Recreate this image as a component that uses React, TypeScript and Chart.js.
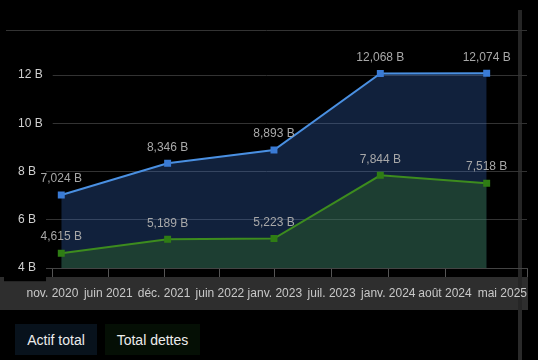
import React, { useEffect, useRef } from "react";
import { Chart, registerables } from "chart.js";

Chart.register(...registerables);

// Months since Nov 2020 for each reported period
const periodMonths = [1, 13, 25, 37, 49];
const actifTotal = [7.024, 8.346, 8.893, 12.068, 12.074];
const totalDettes = [4.615, 5.189, 5.223, 7.844, 7.518];
// x-axis tick labels and their positions (months since Nov 2020)
const xTickLabels = ["nov. 2020", "juin 2021", "déc. 2021", "juin 2022", "janv. 2023", "juil. 2023", "janv. 2024", "août 2024", "mai 2025"];
const xTickMonths = [0, 6.3, 12.6, 18.9, 25.1, 31.5, 37.9, 44.3];
const xMin = -5.237;
const xMax = 53.55;
const yMin = 4;
const yMax = 13.87;
const yStep = 2;
const seriesNames = ["Actif total", "Total dettes"];

const FONT = "'Liberation Sans', Arial, sans-serif";

const fmt = (v: number) => v.toFixed(3).replace(".", ",") + " B";
const isTop = (v: number) => Math.abs(v - yMax) < 1e-6;

const bgPlugin = {
  id: "bgPlugin",
  beforeDraw(chart: any) {
    const { ctx, width, height } = chart;
    ctx.save();
    ctx.fillStyle = "#000";
    ctx.fillRect(0, 0, width, height);
    const xs = chart.scales.x;
    ctx.fillStyle = "#2e2e2e";
    ctx.fillRect(0, xs.top + 9, chart.chartArea.right + 1, 33);
    ctx.fillStyle = "#262626";
    ctx.fillRect(518, 10, 4, height - 10);
    ctx.restore();
  },
};

const labelPlugin = {
  id: "labelPlugin",
  afterDatasetsDraw(chart: any) {
    const { ctx } = chart;
    ctx.save();
    ctx.font = `12px ${FONT}`;
    ctx.fillStyle = "#a8a8a8";
    ctx.textAlign = "center";
    ctx.textBaseline = "middle";
    chart.data.datasets.forEach((ds: any, i: number) => {
      const meta = chart.getDatasetMeta(i);
      meta.data.forEach((pt: any, j: number) => {
        const v = ds.data[j].y;
        ctx.fillText(fmt(v), pt.x, pt.y - 16);
      });
    });
    ctx.restore();
  },
};

export default function App() {
  const ref = useRef<HTMLCanvasElement>(null);
  useEffect(() => {
    document.body.style.margin = "0";
    document.body.style.background = "#000";
    const chart = new Chart(ref.current!, {
      type: "line",
      data: {
        datasets: [
          {
            label: seriesNames[0],
            data: periodMonths.map((m, i) => ({ x: m, y: actifTotal[i] })),
            borderColor: "#4a90e2",
            backgroundColor: "rgba(60,120,216,0.28)",
            pointBackgroundColor: "#3a7bd5",
            pointBorderColor: "#3a7bd5",
            pointStyle: "rect",
            pointRadius: 3.5,
            borderWidth: 2,
            fill: "start",
            order: 1,
          },
          {
            label: seriesNames[1],
            data: periodMonths.map((m, i) => ({ x: m, y: totalDettes[i] })),
            borderColor: "#3d8c1e",
            backgroundColor: "rgba(60,130,30,0.3)",
            pointBackgroundColor: "#2f7d14",
            pointBorderColor: "#2f7d14",
            pointStyle: "rect",
            pointRadius: 3.5,
            borderWidth: 2,
            fill: "start",
            order: 0,
          },
        ],
      },
      options: {
        animation: false,
        responsive: false,
        maintainAspectRatio: false,
        layout: { padding: { top: 30, right: 11, bottom: 0, left: 0 } },
        plugins: { legend: { display: false }, tooltip: { enabled: false } },
        scales: {
          x: {
            type: "linear",
            min: xMin,
            max: xMax,
            afterBuildTicks: (s: any) => {
              s.ticks = [xMin, ...xTickMonths, xMax].map((v) => ({ value: v }));
            },
            afterFit: (s: any) => {
              s.height = 42;
              s.paddingLeft = 0;
              s.paddingRight = 0;
            },
            grid: {
              drawOnChartArea: false,
              drawTicks: true,
              tickLength: 9,
              tickColor: (c: any) => (c.index === 0 ? "rgba(0,0,0,0)" : "#555"),
              color: "rgba(0,0,0,0)",
            },
            border: { display: true, color: "#444" },
            ticks: {
              autoSkip: false,
              maxRotation: 0,
              align: "inner",
              padding: 9,
              color: "#c8c8c8",
              font: { size: 12, family: FONT },
              callback: (_v: any, i: number) => (i === 0 ? "" : xTickLabels[i - 1]),
            },
          },
          y: {
            type: "linear",
            position: "left",
            min: yMin,
            max: yMax,
            afterBuildTicks: (s: any) => {
              const t = [];
              for (let v = yMin; v <= yMax; v += yStep) t.push({ value: v });
              t.push({ value: yMax });
              s.ticks = t;
            },
            afterFit: (s: any) => {
              s.width = 0;
              s.paddingTop = 0;
              s.paddingBottom = 0;
            },
            grid: { color: "#333", drawTicks: false },
            border: { display: false },
            ticks: {
              mirror: true,
              crossAlign: "near",
              padding: 12,
              color: "#d0d0d0",
              font: { size: 12, family: FONT },
              showLabelBackdrop: true,
              backdropColor: (c: any) => (c.tick && isTop(c.tick.value) ? "rgba(0,0,0,0)" : "#000"),
              backdropPadding: { left: 14, right: 10, top: 4, bottom: 6 },
              callback: (v: any) => (isTop(v) ? "" : `${v} B`),
            },
          },
        },
      },
      plugins: [bgPlugin, labelPlugin],
    } as any);
    return () => chart.destroy();
  }, []);

  const btn = (left: number, width: number, bg: string): React.CSSProperties => ({
    position: "absolute",
    left,
    top: 324,
    width,
    height: 31,
    background: bg,
    color: "#ececec",
    font: `14px ${FONT}`,
    display: "flex",
    alignItems: "center",
    justifyContent: "center",
  });

  return (
    <div style={{ position: "relative", width: 538, height: 360, background: "#000", overflow: "hidden" }}>
      <canvas ref={ref} width={538} height={310} style={{ display: "block" }} />
      <div style={btn(15, 82, "#08121c")}>{seriesNames[0]}</div>
      <div style={btn(105, 95, "#050f05")}>{seriesNames[1]}</div>
      <div style={{ position: "absolute", left: 518, top: 310, width: 4, height: 50, background: "#2a2a2a" }} />
    </div>
  );
}
